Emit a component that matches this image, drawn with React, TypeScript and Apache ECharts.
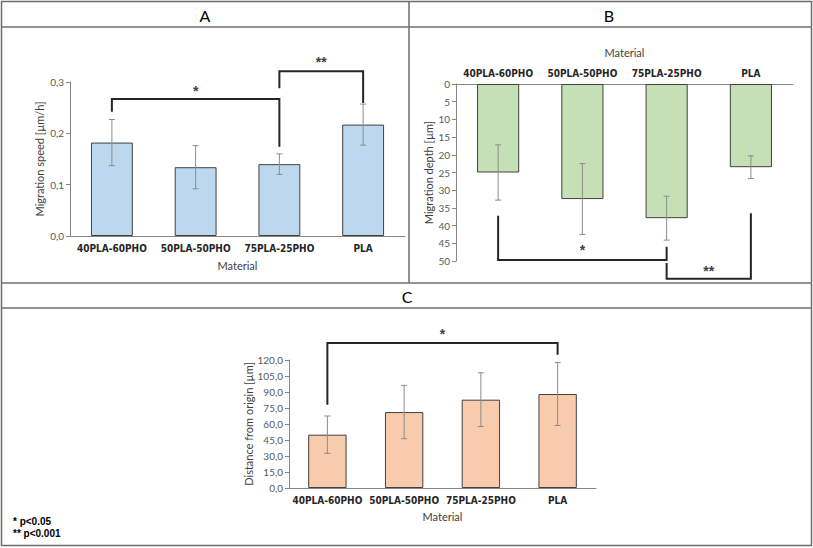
import React, { useEffect, useRef } from "react";
import * as echarts from "echarts";

const categories = ["40PLA-60PHO", "50PLA-50PHO", "75PLA-25PHO", "PLA"];

const speedMean = [0.182, 0.134, 0.14, 0.217];
const speedErr = [0.045, 0.042, 0.02, 0.04];
const speedTicks = { min: 0, max: 0.3, interval: 0.1 };

const depthMean = [25.0, 32.5, 37.9, 23.5];
const depthErr = [7.8, 10.0, 6.2, 3.2];
const depthTicks = { min: 0, max: 50, interval: 5 };

const distMean = [50.0, 71.2, 82.8, 88.1];
const distErr = [17.5, 25.0, 25.2, 29.5];
const distTicks = { min: 0, max: 120, interval: 15 };

// brackets: [fromCat, toCat, barValue, leftEnd, rightEnd, starValue]
const bracketsA = [
  [0, 2, 0.267, 0.242, 0.174, 0.283],
  [2, 3, 0.321, 0.288, 0.259, 0.338],
];
const bracketLabelsA = ["*", "**"];
const bracketsB = [
  [0, 2, 49.7, 37.2, 46.0, 47.0],
  [2, 3, 55.0, 50.6, 36.5, 52.8],
];
const bracketLabelsB = ["*", "**"];
const bracketsC = [[0, 3, 136, 78, 125, 144]];
const bracketLabelsC = ["*"];

const legendLines = ["* p<0.05", "** p<0.001"];
const panelTitles = ["A", "B", "C"];

const TICK_FONT = "Lato, 'Open Sans', sans-serif";
const CAT_FONT = "'Liberation Sans Narrow', 'DejaVu Sans Condensed', 'Liberation Sans', sans-serif";

function errData(mean: number[], err: number[]) {
  return mean.map((m, i) => [i, m - err[i], m + err[i]]);
}

function errorSeries(idx: number, mean: number[], err: number[]) {
  return {
    type: "custom",
    xAxisIndex: idx,
    yAxisIndex: idx,
    data: errData(mean, err),
    encode: { x: 0, y: [1, 2] },
    silent: true,
    z: 5,
    renderItem: (params: any, api: any) => {
      const lo = api.coord([api.value(0), api.value(1)]);
      const hi = api.coord([api.value(0), api.value(2)]);
      const cap = 3;
      const style = { stroke: "#8c8c8c", lineWidth: 1 };
      return {
        type: "group",
        children: [
          { type: "line", shape: { x1: lo[0], y1: lo[1], x2: hi[0], y2: hi[1] }, style },
          { type: "line", shape: { x1: lo[0] - cap, y1: lo[1], x2: lo[0] + cap, y2: lo[1] }, style },
          { type: "line", shape: { x1: hi[0] - cap, y1: hi[1], x2: hi[0] + cap, y2: hi[1] }, style },
        ],
      };
    },
  };
}

function bracketSeries(idx: number, data: number[][], labels: string[]) {
  return {
    type: "custom",
    xAxisIndex: idx,
    yAxisIndex: idx,
    data,
    encode: { x: [0, 1], y: [2] },
    silent: true,
    clip: false,
    z: 6,
    renderItem: (params: any, api: any) => {
      const a = api.coord([api.value(0), api.value(3)]);
      const b = api.coord([api.value(0), api.value(2)]);
      const c = api.coord([api.value(1), api.value(2)]);
      const d = api.coord([api.value(1), api.value(4)]);
      const s = api.coord([api.value(0), api.value(5)]);
      return {
        type: "group",
        children: [
          {
            type: "polyline",
            shape: { points: [a, b, c, d] },
            style: { stroke: "#262626", lineWidth: 2, fill: null },
          },
          {
            type: "text",
            x: (b[0] + c[0]) / 2,
            y: s[1],
            style: {
              text: labels[params.dataIndex],
              fill: "#404040",
              font: "bold 14px 'Liberation Sans', sans-serif",
              align: "center",
              verticalAlign: "middle",
            },
          },
        ],
      };
    },
  };
}

function catAxis(idx: number, position: string, labelMargin: number, nameGap: number) {
  return {
    type: "category",
    gridIndex: idx,
    data: categories,
    position,
    name: "Material",
    nameLocation: "middle",
    nameGap,
    nameTextStyle: { fontFamily: TICK_FONT, fontSize: 11, color: "#404040" },
    axisLine: { lineStyle: { color: "#868686", width: 1 } },
    axisTick: { show: false },
    axisLabel: {
      margin: labelMargin,
      fontFamily: CAT_FONT,
      fontWeight: "bold",
      fontSize: 10,
      color: "#262626",
      interval: 0,
    },
  };
}

function valAxis(
  idx: number,
  ticks: { min: number; max: number; interval: number },
  name: string,
  nameGap: number,
  fmt: (v: number) => string,
  inverse: boolean
) {
  return {
    type: "value",
    gridIndex: idx,
    min: ticks.min,
    max: ticks.max,
    interval: ticks.interval,
    inverse,
    name,
    nameLocation: "middle",
    nameGap,
    nameTextStyle: { fontFamily: TICK_FONT, fontSize: 11, color: "#404040" },
    splitLine: { show: false },
    axisLine: { show: true, lineStyle: { color: "#868686", width: 1 } },
    axisTick: { show: true, length: 4, lineStyle: { color: "#868686" } },
    axisLabel: {
      margin: 6,
      fontFamily: TICK_FONT,
      fontSize: 10,
      color: "#595959",
      formatter: fmt,
    },
  };
}

const comma1 = (v: number) => v.toFixed(1).replace(".", ",");
const intFmt = (v: number) => String(Math.round(v));

function barSeries(idx: number, data: number[], color: string) {
  return {
    type: "bar",
    xAxisIndex: idx,
    yAxisIndex: idx,
    data,
    barWidth: "50%",
    itemStyle: { color, borderColor: "#404040", borderWidth: 1 },
    z: 2,
  };
}

export default function App() {
  const ref = useRef<HTMLDivElement>(null);
  useEffect(() => {
    document.body.style.margin = "0";
    const chart = echarts.init(ref.current!, null, { renderer: "svg" });
    const frame = { stroke: "#6e6e6e", lineWidth: 1.5 };
    chart.setOption({
      animation: false,
      backgroundColor: "#ffffff",
      grid: [
        { left: 70, top: 82, width: 335, height: 154 },
        { left: 456, top: 84, width: 337, height: 177 },
        { left: 289, top: 360, width: 307, height: 128 },
      ],
      xAxis: [
        catAxis(0, "bottom", 7, 24),
        catAxis(1, "top", 6, 26),
        catAxis(2, "bottom", 7, 23),
      ],
      yAxis: [
        valAxis(0, speedTicks, "Migration speed [µm/h]", 25, comma1, false),
        valAxis(1, depthTicks, "Migration depth [µm]", 19, intFmt, true),
        valAxis(2, distTicks, "Distance from origin [µm]", 34, comma1, false),
      ],
      series: [
        barSeries(0, speedMean, "#bdd7ee"),
        barSeries(1, depthMean, "#c5e0b4"),
        barSeries(2, distMean, "#f8cbad"),
        errorSeries(0, speedMean, speedErr),
        errorSeries(1, depthMean, depthErr),
        errorSeries(2, distMean, distErr),
        bracketSeries(0, bracketsA, bracketLabelsA),
        bracketSeries(1, bracketsB, bracketLabelsB),
        bracketSeries(2, bracketsC, bracketLabelsC),
      ],
      graphic: [
        { type: "rect", shape: { x: 1.5, y: 1.5, width: 810, height: 544 }, style: { ...frame, fill: null }, silent: true },
        { type: "line", shape: { x1: 1.5, y1: 27, x2: 811.5, y2: 27 }, style: frame, silent: true },
        { type: "line", shape: { x1: 409, y1: 1.5, x2: 409, y2: 283 }, style: frame, silent: true },
        { type: "line", shape: { x1: 1.5, y1: 283, x2: 811.5, y2: 283 }, style: frame, silent: true },
        { type: "line", shape: { x1: 1.5, y1: 308, x2: 811.5, y2: 308 }, style: frame, silent: true },
        {
          type: "text", x: 205, y: 15,
          style: { text: panelTitles[0], font: "16px Lato, sans-serif", fill: "#000", align: "center", verticalAlign: "middle" },
        },
        {
          type: "text", x: 609, y: 15,
          style: { text: panelTitles[1], font: "16px Lato, sans-serif", fill: "#000", align: "center", verticalAlign: "middle" },
        },
        {
          type: "text", x: 407, y: 296,
          style: { text: panelTitles[2], font: "16px Lato, sans-serif", fill: "#000", align: "center", verticalAlign: "middle" },
        },
        {
          type: "text", x: 13, y: 521,
          style: { text: legendLines[0], font: "bold 10px 'Liberation Sans', sans-serif", fill: "#000", align: "left", verticalAlign: "middle" },
        },
        {
          type: "text", x: 13, y: 533,
          style: { text: legendLines[1], font: "bold 10px 'Liberation Sans', sans-serif", fill: "#000", align: "left", verticalAlign: "middle" },
        },
      ],
    });
    return () => chart.dispose();
  }, []);
  return <div ref={ref} style={{ width: 813, height: 548 }} />;
}
